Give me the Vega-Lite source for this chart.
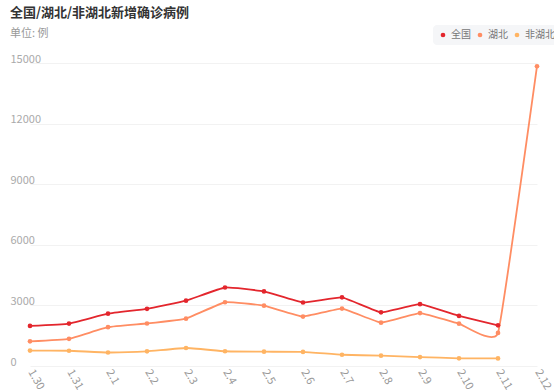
{
  "$schema": "https://vega.github.io/schema/vega-lite/v6.json",
  "width": 507,
  "height": 303,
  "autosize": "none",
  "padding": {"left": 30, "top": 63, "right": 17, "bottom": 26},
  "background": "#ffffff",
  "title": {
    "text": "全国/湖北/非湖北新增确诊病例",
    "subtitle": "单位: 例",
    "anchor": "start",
    "frame": "group",
    "dx": -20,
    "offset": -14,
    "font": "Noto Sans CJK SC",
    "fontSize": 13,
    "fontWeight": "bold",
    "color": "#333333",
    "subtitleFont": "Noto Sans CJK SC",
    "subtitleFontSize": 11,
    "subtitleColor": "#999999",
    "subtitlePadding": 8
  },
  "data": {
    "values": [
      {"d": "1.30", "s": "全国", "v": 1982}, {"d": "1.31", "s": "全国", "v": 2102}, {"d": "2.1", "s": "全国", "v": 2590}, {"d": "2.2", "s": "全国", "v": 2829}, {"d": "2.3", "s": "全国", "v": 3235}, {"d": "2.4", "s": "全国", "v": 3887}, {"d": "2.5", "s": "全国", "v": 3694}, {"d": "2.6", "s": "全国", "v": 3143}, {"d": "2.7", "s": "全国", "v": 3399}, {"d": "2.8", "s": "全国", "v": 2656}, {"d": "2.9", "s": "全国", "v": 3062}, {"d": "2.10", "s": "全国", "v": 2478}, {"d": "2.11", "s": "全国", "v": 2015},
      {"d": "1.30", "s": "湖北", "v": 1220}, {"d": "1.31", "s": "湖北", "v": 1347}, {"d": "2.1", "s": "湖北", "v": 1921}, {"d": "2.2", "s": "湖北", "v": 2103}, {"d": "2.3", "s": "湖北", "v": 2345}, {"d": "2.4", "s": "湖北", "v": 3156}, {"d": "2.5", "s": "湖北", "v": 2987}, {"d": "2.6", "s": "湖北", "v": 2447}, {"d": "2.7", "s": "湖北", "v": 2841}, {"d": "2.8", "s": "湖北", "v": 2147}, {"d": "2.9", "s": "湖北", "v": 2618}, {"d": "2.10", "s": "湖北", "v": 2097}, {"d": "2.11", "s": "湖北", "v": 1638}, {"d": "2.12", "s": "湖北", "v": 14840},
      {"d": "1.30", "s": "非湖北", "v": 762}, {"d": "1.31", "s": "非湖北", "v": 755}, {"d": "2.1", "s": "非湖北", "v": 669}, {"d": "2.2", "s": "非湖北", "v": 726}, {"d": "2.3", "s": "非湖北", "v": 890}, {"d": "2.4", "s": "非湖北", "v": 731}, {"d": "2.5", "s": "非湖北", "v": 707}, {"d": "2.6", "s": "非湖北", "v": 696}, {"d": "2.7", "s": "非湖北", "v": 558}, {"d": "2.8", "s": "非湖北", "v": 509}, {"d": "2.9", "s": "非湖北", "v": 444}, {"d": "2.10", "s": "非湖北", "v": 381}, {"d": "2.11", "s": "非湖北", "v": 377}
    ]
  },
  "encoding": {
    "x": {
      "field": "d",
      "type": "ordinal",
      "sort": null,
      "scale": {"type": "point", "padding": 0},
      "axis": {
        "title": null,
        "domain": false,
        "ticks": false,
        "grid": false,
        "labelAngle": 60,
        "labelAlign": "left",
        "labelBaseline": "middle",
        "labelPadding": 4,
        "labelFont": "Noto Sans CJK SC",
        "labelFontSize": 11,
        "labelColor": "#999999"
      }
    },
    "y": {
      "field": "v",
      "type": "quantitative",
      "scale": {"domain": [0, 15000]},
      "axis": {
        "title": null,
        "values": [0, 3000, 6000, 9000, 12000, 15000],
        "format": "d",
        "domain": false,
        "ticks": false,
        "tickSize": 0,
        "labelAlign": "left",
        "labelBaseline": "bottom",
        "labelPadding": 20,
        "labelOffset": 1,
        "labelFont": "Noto Sans CJK SC",
        "labelFontSize": 11,
        "labelColor": "#aaaaaa",
        "gridColor": "#f2f2f2",
        "gridWidth": 1
      }
    },
    "color": {
      "field": "s",
      "type": "nominal",
      "sort": ["全国", "湖北", "非湖北"],
      "scale": {"domain": ["全国", "湖北", "非湖北"], "range": ["#e3262d", "#ff8d63", "#ffb463"]},
      "legend": {
        "title": null,
        "orient": "none",
        "legendX": 403,
        "legendY": -38,
        "direction": "horizontal",
        "gridAlign": "none",
        "symbolType": "circle",
        "symbolSize": 22,
        "symbolStrokeWidth": 0,
        "labelFont": "Noto Sans CJK SC",
        "labelFontSize": 10,
        "labelColor": "#777777",
        "labelOffset": 3,
        "columnPadding": 4,
        "fillColor": "#f5f6f8",
        "cornerRadius": 4,
        "padding": 5
      }
    }
  },
  "layer": [
    {"mark": {"type": "line", "interpolate": "cardinal", "tension": 0.7, "strokeWidth": 1.8}},
    {"mark": {"type": "point", "filled": true, "size": 22, "opacity": 1, "shape": "circle"}}
  ],
  "config": {"view": {"stroke": null}}
}
